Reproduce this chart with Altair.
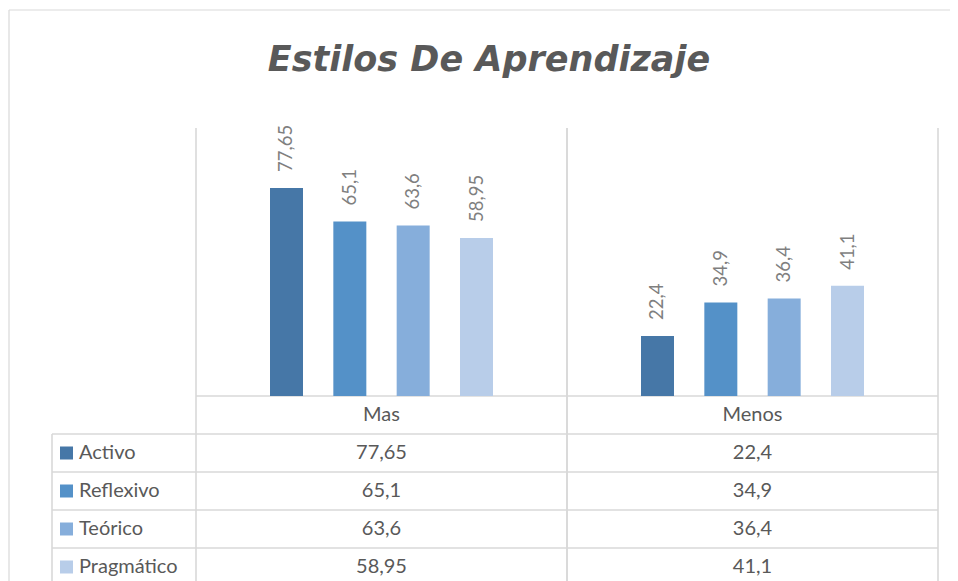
import altair as alt
import pandas as pd

# ---- data ----
categorias = ["Mas", "Menos"]
estilos = ["Activo", "Reflexivo", "Teórico", "Pragmático"]
valores_mas = [77.65, 65.1, 63.6, 58.95]
valores_menos = [22.4, 34.9, 36.4, 41.1]
colores = ["#4677A7", "#5491C8", "#86AEDB", "#B8CDE9"]
titulo = "Estilos De Aprendizaje"

filas = []
for i, e in enumerate(estilos):
    filas.append({"categoria": "Mas", "estilo": e, "valor": valores_mas[i]})
    filas.append({"categoria": "Menos", "estilo": e, "valor": valores_menos[i]})
df = pd.DataFrame(filas)
df_cat = pd.DataFrame({"categoria": categorias, "fila": "_cab"})
row_domain = ["_cab"] + estilos
df_rows = pd.DataFrame({"fila": row_domain})
df_key = pd.DataFrame({"estilo": estilos})
df_one = pd.DataFrame({"a": [0]})

# ---- layout (canvas pixels) ----
W, H = 942, 573
X0, X1 = 188, 930
Y_TOP, Y_BASE = 120, 388
ROW_H = 38
TABLE_LEFT = 44
GRID = "#d9d9d9"
TXT = "#595959"
FONT = "Lato"

x_scale = alt.Scale(domain=categorias, range=[X0, X1], paddingInner=0, paddingOuter=0)
off_scale = alt.Scale(domain=estilos, range=[74, 297], paddingInner=0.479, paddingOuter=0)
y_scale = alt.Scale(domain=[0, 100], range=[Y_BASE, Y_TOP])
row_scale = alt.Scale(domain=row_domain, range=[Y_BASE, Y_BASE + ROW_H * len(row_domain)],
                      paddingInner=0, paddingOuter=0)
color_scale = alt.Scale(domain=estilos, range=colores)

etq = "replace(toString(datum.valor), '.', ',')"

X = alt.X("categoria:N", scale=x_scale, axis=None)
XO = alt.XOffset("estilo:N", scale=off_scale)
Y = alt.Y("valor:Q", scale=y_scale, axis=None)

bars = alt.Chart(df).mark_bar().encode(
    x=X, xOffset=XO, y=Y,
    color=alt.Color("estilo:N", scale=color_scale, legend=None),
)

labels = alt.Chart(df).transform_calculate(etiqueta=etq).mark_text(
    angle=270, align="left", baseline="middle", dx=16, font=FONT, fontSize=18.5, color="#7f7f7f"
).encode(x=X, xOffset=XO, y=Y, text="etiqueta:N")

table_txt = alt.Chart(df).transform_calculate(etiqueta=etq).mark_text(
    font=FONT, fontSize=20, color=TXT, baseline="middle"
).encode(
    x=X, y=alt.Y("estilo:N", scale=row_scale, axis=None), text="etiqueta:N"
)

header_txt = alt.Chart(df_cat).mark_text(font=FONT, fontSize=20, color=TXT, baseline="middle").encode(
    x=X, y=alt.Y("fila:N", scale=row_scale, axis=None), text="categoria:N"
)

key_sq = alt.Chart(df_key).mark_square(size=169, opacity=1, shape="square").encode(
    x=alt.value(TABLE_LEFT + 14.5),
    y=alt.Y("estilo:N", scale=row_scale, axis=None),
    color=alt.Color("estilo:N", scale=color_scale, legend=None),
)
key_txt = alt.Chart(df_key).mark_text(font=FONT, fontSize=20, color=TXT, align="left", baseline="middle").encode(
    x=alt.value(TABLE_LEFT + 27),
    y=alt.Y("estilo:N", scale=row_scale, axis=None),
    text="estilo:N",
)

row_lines = alt.Chart(df_rows).transform_filter("datum.fila != '_cab'").mark_rule(
    color=GRID, strokeWidth=1.6
).encode(
    y=alt.Y("fila:N", scale=row_scale, axis=None, bandPosition=0),
    x=alt.value(TABLE_LEFT), x2=alt.value(X1),
)
head_line = alt.Chart(df_rows).transform_filter("datum.fila == '_cab'").mark_rule(
    color=GRID, strokeWidth=1.6
).encode(
    y=alt.Y("fila:N", scale=row_scale, axis=None, bandPosition=0),
    x=alt.value(X0), x2=alt.value(X1),
)
left_border = alt.Chart(df_rows).transform_filter("datum.fila == 'Activo'").mark_rule(
    color=GRID, strokeWidth=1.6
).encode(
    y=alt.Y("fila:N", scale=row_scale, axis=None, bandPosition=0),
    y2=alt.value(H), x=alt.value(TABLE_LEFT),
)
vlines_a = alt.Chart(df_cat).mark_rule(color=GRID, strokeWidth=1.6).encode(
    x=alt.X("categoria:N", scale=x_scale, axis=None, bandPosition=0),
    y=alt.value(Y_TOP), y2=alt.value(H),
)
vlines_b = alt.Chart(df_cat).mark_rule(color=GRID, strokeWidth=1.6).encode(
    x=alt.X("categoria:N", scale=x_scale, axis=None, bandPosition=1),
    y=alt.value(Y_TOP), y2=alt.value(H),
)

frame_l = alt.Chart(df_one).mark_rule(color=GRID, strokeWidth=1.2).encode(
    x=alt.value(1), y=alt.value(2), y2=alt.value(H)
)
frame_t = alt.Chart(df_one).mark_rule(color=GRID, strokeWidth=1.2).encode(
    x=alt.value(1), x2=alt.value(W), y=alt.value(2)
)

title = alt.Chart(df_one).mark_text(
    text=titulo, font="DejaVu Sans", fontSize=35, fontWeight="bold", fontStyle="italic",
    color=TXT, align="center", baseline="alphabetic"
).encode(x=alt.value(481), y=alt.value(63))

chart = alt.layer(
    frame_l, frame_t, vlines_a, vlines_b, head_line, row_lines, left_border,
    bars, labels, table_txt, header_txt, key_sq, key_txt, title,
).resolve_scale(y="independent").properties(
    width=W, height=H, autosize=alt.AutoSizeParams(type="none"), padding=0,
    background="white",
).configure_view(stroke=None)

chart.save("out.html", embed_options={"renderer": "svg", "actions": False})
